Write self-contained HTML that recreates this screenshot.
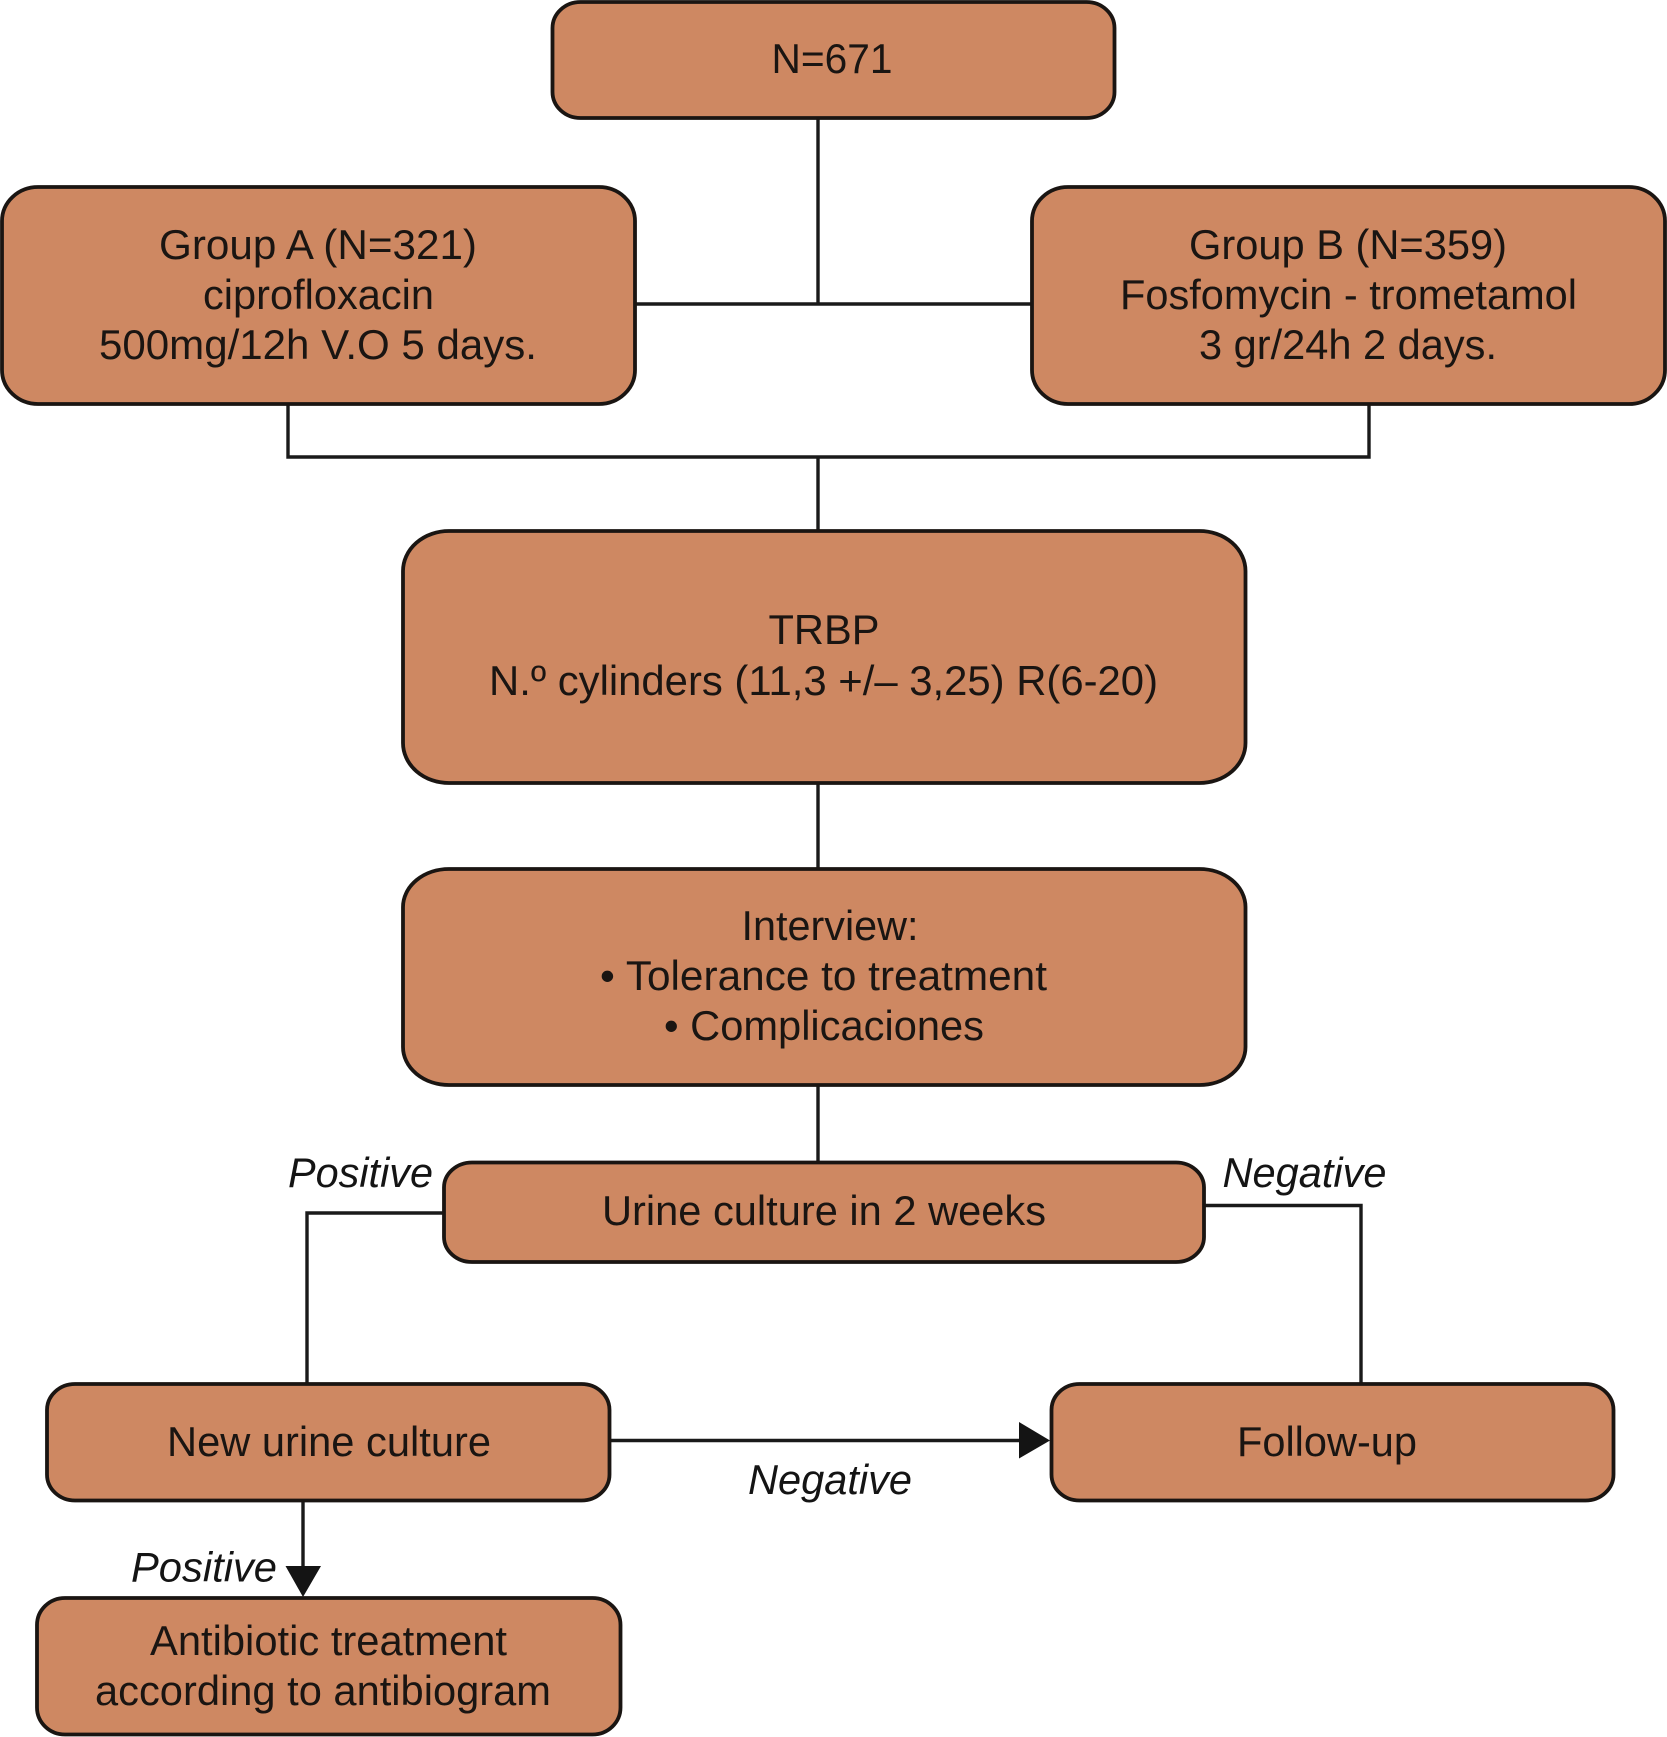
<!DOCTYPE html>
<html>
<head>
<meta charset="utf-8">
<style>
html,body{margin:0;padding:0;background:#fff;}
svg{display:block;}
text{font-family:"Liberation Sans",Arial,sans-serif;font-size:42px;fill:#1a1512;}
.i{font-style:italic;fill:#141414;}
rect{fill:#ce8862;stroke:#1a1512;stroke-width:3.8;}
.c{fill:none;stroke:#1a1a1a;stroke-width:3.4;}
</style>
</head>
<body>
<svg width="1667" height="1737" viewBox="0 0 1667 1737" xmlns="http://www.w3.org/2000/svg">
<!-- connectors -->
<path class="c" d="M818 118V304M636 304H1032"/>
<path class="c" d="M288 405V457H1369V405M818 457V530"/>
<path class="c" d="M818 783V869M818 1085V1162"/>
<path class="c" d="M444 1213H307V1384"/>
<path class="c" d="M1205 1205.5H1361V1384"/>
<path class="c" d="M610 1440.500H1022"/>
<path class="c" d="M303 1501V1568"/>
<polygon points="1019,1422 1050,1440.500 1019,1458.500" fill="#141414"/>
<polygon points="285.500,1566 321,1566 303,1597" fill="#141414"/>
<!-- boxes -->
<rect x="552.500" y="2" width="562" height="116" rx="28" ry="26"/>
<rect x="2" y="187" width="633" height="217" rx="36" ry="34"/>
<rect x="1032" y="187" width="633" height="217" rx="36" ry="34"/>
<rect x="403" y="531" width="842.500" height="252" rx="46" ry="40"/>
<rect x="403" y="869" width="842.500" height="216" rx="46" ry="38"/>
<rect x="444" y="1162.500" width="760" height="99.500" rx="28" ry="25"/>
<rect x="47" y="1384" width="562.500" height="116.500" rx="28" ry="26"/>
<rect x="1051.500" y="1384" width="562" height="116.500" rx="28" ry="26"/>
<rect x="37" y="1598" width="583.500" height="136.500" rx="28" ry="27"/>
<!-- text -->
<text x="771.500" y="73" textLength="121" lengthAdjust="spacingAndGlyphs">N=671</text>
<text x="159" y="259" textLength="318" lengthAdjust="spacingAndGlyphs">Group A (N=321)</text>
<text x="203" y="309" textLength="231" lengthAdjust="spacingAndGlyphs">ciprofloxacin</text>
<text x="99" y="359" textLength="438" lengthAdjust="spacingAndGlyphs">500mg/12h V.O 5 days.</text>
<text x="1189" y="259" textLength="318" lengthAdjust="spacingAndGlyphs">Group B (N=359)</text>
<text x="1120" y="309" textLength="457" lengthAdjust="spacingAndGlyphs">Fosfomycin - trometamol</text>
<text x="1199" y="359" textLength="298" lengthAdjust="spacingAndGlyphs">3 gr/24h 2 days.</text>
<text x="768.500" y="644" textLength="111" lengthAdjust="spacingAndGlyphs">TRBP</text>
<text x="489" y="695" textLength="669" lengthAdjust="spacingAndGlyphs">N.º cylinders (11,3 +/– 3,25) R(6-20)</text>
<text x="741.500" y="940" textLength="177" lengthAdjust="spacingAndGlyphs">Interview:</text>
<text x="600" y="990" textLength="447" lengthAdjust="spacingAndGlyphs">• Tolerance to treatment</text>
<text x="664" y="1040" textLength="320" lengthAdjust="spacingAndGlyphs">• Complicaciones</text>
<text x="602" y="1225" textLength="444" lengthAdjust="spacingAndGlyphs">Urine culture in 2 weeks</text>
<text x="167" y="1456" textLength="324" lengthAdjust="spacingAndGlyphs">New urine culture</text>
<text x="1237" y="1456" textLength="180" lengthAdjust="spacingAndGlyphs">Follow-up</text>
<text x="150" y="1655" textLength="357" lengthAdjust="spacingAndGlyphs">Antibiotic treatment</text>
<text x="95" y="1705" textLength="456" lengthAdjust="spacingAndGlyphs">according to antibiogram</text>
<text class="i" x="288" y="1187" textLength="145" lengthAdjust="spacingAndGlyphs">Positive</text>
<text class="i" x="1222.500" y="1187" textLength="164" lengthAdjust="spacingAndGlyphs">Negative</text>
<text class="i" x="748" y="1494" textLength="164" lengthAdjust="spacingAndGlyphs">Negative</text>
<text class="i" x="131" y="1581.500" textLength="146" lengthAdjust="spacingAndGlyphs">Positive</text>
</svg>
</body>
</html>
